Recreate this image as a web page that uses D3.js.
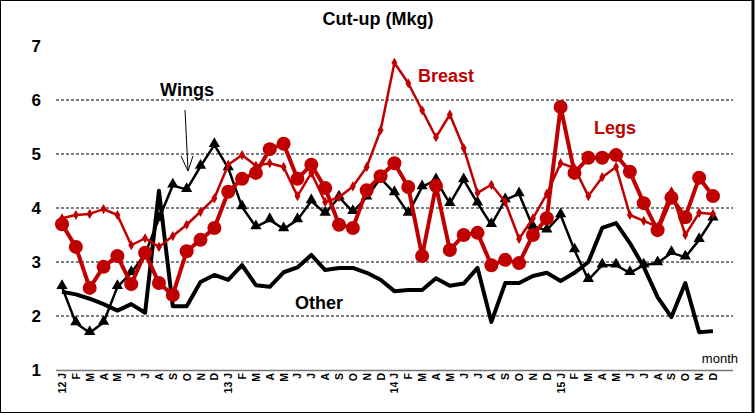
<!DOCTYPE html>
<html lang="en">
    <head>
        <meta charset="utf-8">
        <title>Cut-up (Mkg)</title>
        <script type="text/javascript" src="https://d3js.org/d3.v7.min.js"></script>
        <style type="text/css">
           html, body { margin:0; padding:0; overflow:hidden; background:#fff }
           svg { display:block; font-family: Arial, "Liberation Sans", sans-serif }
        </style>
    </head>
    <body>
        <script type="text/javascript">

          // data, monthly Jan 2012 .. Dec 2015
          var years = ["12", "13", "14", "15"];
          var monthLetters = ["J","F","M","A","M","J","J","A","S","O","N","D"];
          var yTicks = [1, 2, 3, 4, 5, 6, 7];

          var other = [2.45, 2.4, 2.32, 2.22, 2.1, 2.22, 2.06, 4.32, 2.18, 2.18, 2.63, 2.76,
                       2.67, 2.94, 2.57, 2.54, 2.81, 2.9, 3.13, 2.85, 2.89, 2.89, 2.8, 2.67,
                       2.46, 2.48, 2.48, 2.7, 2.56, 2.6, 2.89, 1.89, 2.61, 2.61, 2.74, 2.8,
                       2.65, 2.8, 3.0, 3.63, 3.72, 3.35, 2.91, 2.35, 1.98, 2.61, 1.70, 1.72];

          var wings = [2.54, 1.87, 1.69, 1.88, 2.54, 2.8, 3.15, 3.8, 4.42, 4.34, 4.77, 5.17,
                       4.74, 4.02, 3.65, 3.78, 3.61, 3.78, 4.13, 3.9, 4.2, 3.93, 4.2, 4.55,
                       4.28, 3.9, 4.39, 4.52, 4.08, 4.52, 4.09, 3.69, 4.15, 4.26, 3.65, 3.59,
                       3.87, 3.22, 2.67, 2.94, 2.94, 2.8, 2.94, 2.98, 3.17, 3.09, 3.41, 3.81];

          var breast = [3.81, 3.87, 3.89, 3.98, 3.87, 3.31, 3.44, 3.28, 3.48, 3.69, 3.93, 4.18,
                        4.8, 4.98, 4.78, 4.83, 4.76, 4.22, 4.65, 4.11, 4.2, 4.4, 4.76, 5.44,
                        6.69, 6.31, 5.81, 5.31, 5.73, 5.11, 4.28, 4.43, 4.11, 3.43, 3.81, 4.26,
                        4.83, 4.74, 4.22, 4.57, 4.76, 3.87, 3.76, 3.65, 4.31, 3.5, 3.91, 3.89];

          var legs = [3.7, 3.28, 2.52, 2.91, 3.11, 2.59, 3.17, 2.61, 2.39, 3.2, 3.41, 3.63,
                      4.3, 4.54, 4.65, 5.09, 5.19, 4.54, 4.8, 4.37, 3.69, 3.63, 4.33, 4.59,
                      4.83, 4.39, 3.11, 4.41, 3.22, 3.5, 3.54, 2.94, 3.04, 2.98, 3.5, 3.81,
                      5.87, 4.65, 4.93, 4.93, 4.98, 4.67, 4.09, 3.59, 4.19, 3.83, 4.56, 4.22];

          // month keys
          var months = [];
          years.forEach(function(y) {
                monthLetters.forEach(function(m, j) {
                      months.push({key: y + "-" + j, label: j === 0 ? y + " " + m : m});});});

          var width = 755, height = 413;
          var red = "#c00000";

          var svg = d3.select("body").append("svg")
             .attr("width", width).attr("height", height);

          // frame
          svg.append("rect")
             .attr("x", 0.5).attr("y", 0.5)
             .attr("width", width - 2).attr("height", height - 1)
             .attr("fill", "#fff").attr("stroke", "#000").attr("stroke-width", 1);
          svg.append("line")
             .attr("x1", 753).attr("x2", 753).attr("y1", 0).attr("y2", height)
             .attr("stroke", "#000").attr("stroke-width", 3);

          var x = d3.scalePoint()
             .domain(months.map(function(d) {return d.key;}))
             .range([62, 713]);
          var y = d3.scaleLinear().domain([1, 7]).range([370, 46]);

          // gridlines
          svg.append("g").selectAll("line")
             .data(yTicks.filter(function(t) {return t > 1 && t < 7;}))
             .enter().append("line")
             .attr("x1", 56).attr("x2", 733)
             .attr("y1", function(d) {return y(d);})
             .attr("y2", function(d) {return y(d);})
             .attr("stroke", "#000").attr("stroke-width", 1)
             .attr("stroke-dasharray", "3,2");

          // y labels
          svg.append("g").selectAll("text")
             .data(yTicks).enter().append("text")
             .attr("x", 41).attr("y", function(d) {return y(d);})
             .attr("dy", "0.36em").attr("text-anchor", "end")
             .attr("font-size", 17).attr("font-weight", "bold")
             .text(function(d) {return d;});

          // x axis
          svg.append("line")
             .attr("x1", 56).attr("x2", 733).attr("y1", 370.5).attr("y2", 370.5)
             .attr("stroke", "#777").attr("stroke-width", 1.5);

          svg.append("g").selectAll("text")
             .data(months).enter().append("text")
             .attr("transform", function(d) {
                   return "translate(" + (x(d.key) + 4) + ",373) rotate(-90)";})
             .attr("text-anchor", "end")
             .attr("font-size", 10.5).attr("font-weight", "bold")
             .text(function(d) {return d.label;});

          svg.append("text")
             .attr("x", 738).attr("y", 363).attr("text-anchor", "end")
             .attr("font-size", 13).text("month");

          // title
          svg.append("text")
             .attr("x", 378).attr("y", 25).attr("text-anchor", "middle")
             .attr("font-size", 18).attr("font-weight", "bold")
             .text("Cut-up (Mkg)");

          var line = d3.line()
             .x(function(d, i) {return x(months[i].key);})
             .y(function(d) {return y(d);});

          function drawLine(vals, colour, w) {
                svg.append("path").datum(vals)
                   .attr("d", line).attr("fill", "none")
                   .attr("stroke", colour).attr("stroke-width", w)
                   .attr("stroke-linejoin", "round");}

          // other
          drawLine(other, "#000", 4);

          // wings
          drawLine(wings, "#000", 2.5);
          svg.append("g").selectAll("path")
             .data(wings).enter().append("path")
             .attr("d", d3.symbol().type(d3.symbolTriangle).size(55))
             .attr("transform", function(d, i) {
                   return "translate(" + x(months[i].key) + "," + (y(d) - 1) + ")";})
             .attr("fill", "#000");

          // breast
          drawLine(breast, red, 2.5);
          svg.append("g").selectAll("path")
             .data(breast).enter().append("path")
             .attr("d", d3.symbol().type(d3.symbolDiamond).size(30))
             .attr("transform", function(d, i) {
                   return "translate(" + x(months[i].key) + "," + y(d) + ")";})
             .attr("fill", red);

          // legs
          drawLine(legs, red, 4);
          svg.append("g").selectAll("circle")
             .data(legs).enter().append("circle")
             .attr("cx", function(d, i) {return x(months[i].key);})
             .attr("cy", function(d) {return y(d);})
             .attr("r", 7).attr("fill", red);

          // annotations
          svg.append("text").attr("x", 187).attr("y", 96)
             .attr("text-anchor", "middle").attr("font-size", 18).attr("font-weight", "bold")
             .text("Wings");
          svg.append("line")
             .attr("x1", 185).attr("y1", 110).attr("x2", 188).attr("y2", 170)
             .attr("stroke", "#000").attr("stroke-width", 1);
          svg.append("path")
             .attr("d", "M181,156 L188,171 L193,156")
             .attr("fill", "none").attr("stroke", "#000").attr("stroke-width", 1);

          svg.append("text").attr("x", 446).attr("y", 82)
             .attr("text-anchor", "middle").attr("font-size", 18).attr("font-weight", "bold")
             .attr("fill", red).text("Breast");
          svg.append("text").attr("x", 615).attr("y", 134)
             .attr("text-anchor", "middle").attr("font-size", 18).attr("font-weight", "bold")
             .attr("fill", red).text("Legs");
          svg.append("text").attr("x", 319).attr("y", 309)
             .attr("text-anchor", "middle").attr("font-size", 18).attr("font-weight", "bold")
             .text("Other");

        </script>
    </body>
</html>
